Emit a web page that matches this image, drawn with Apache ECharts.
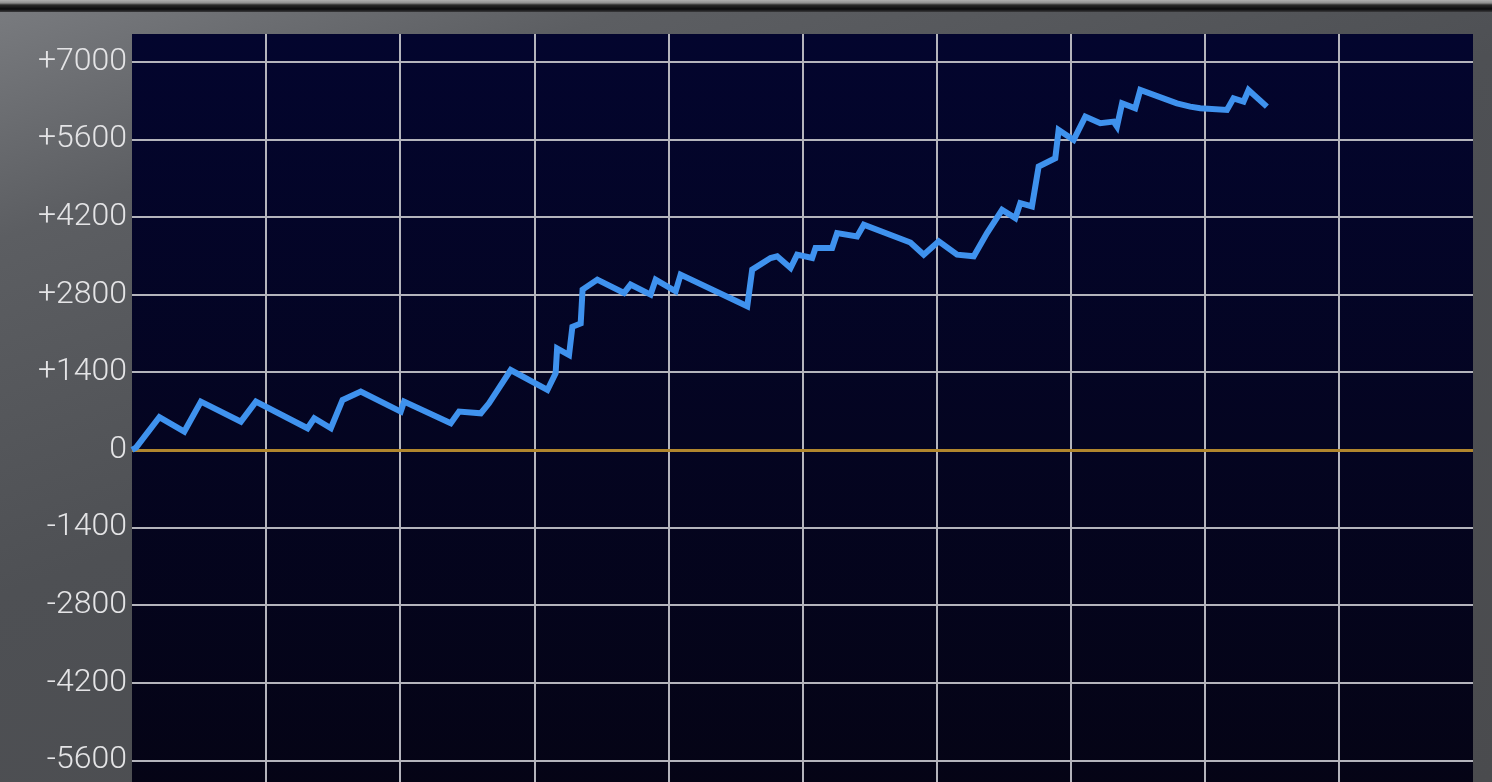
<!DOCTYPE html>
<html>
<head>
<meta charset="utf-8">
<script src="https://cdn.jsdelivr.net/npm/echarts@6/dist/echarts.min.js"></script>
<style>
html,body{margin:0;padding:0;width:1492px;height:782px;overflow:hidden;}
body{background:linear-gradient(160deg,#7a7c80 0%,#5c5e62 18%,#4e5054 45%,#4a4b4e 100%);position:relative;}
#topbar{position:absolute;left:0;top:0;width:1492px;height:12px;background:linear-gradient(180deg,#b0b0b0 0px,#8e8e8e 3px,#2a2a2a 5px,#0a0a0c 9px,#3a3a3c 12px);}
#c{position:absolute;left:0;top:0;width:1492px;height:838px;}
</style>
</head>
<body>
<div id="topbar"></div>
<div id="c"></div>
<script>
// game counts (x) and cumulative difference (y)
const games = [0, 30, 204, 390, 514, 812, 924, 1309, 1359, 1483, 1570, 1706, 2004, 2029, 2377, 2439, 2601, 2662, 2824, 3098, 3159, 3170, 3259, 3284, 3346, 3360, 3470, 3669, 3718, 3867, 3905, 4054, 4091, 4588, 4625, 4762, 4811, 4911, 4960, 5072, 5097, 5221, 5258, 5407, 5457, 5805, 5904, 6016, 6153, 6277, 6376, 6488, 6587, 6624, 6711, 6761, 6885, 6910, 7022, 7109, 7221, 7320, 7345, 7383, 7481, 7519, 7792, 7891, 7966, 8165, 8214, 8289, 8326, 8463];
const diff = [0, 40, 590, 330, 870, 510, 870, 390, 570, 390, 900, 1050, 690, 870, 480, 690, 660, 840, 1440, 1080, 1380, 1830, 1710, 2220, 2280, 2890, 3070, 2830, 2980, 2800, 3070, 2860, 3160, 2590, 3250, 3460, 3490, 3280, 3520, 3460, 3640, 3640, 3910, 3850, 4060, 3740, 3520, 3760, 3520, 3490, 3910, 4330, 4180, 4450, 4390, 5110, 5260, 5770, 5590, 6010, 5890, 5920, 5830, 6250, 6160, 6490, 6250, 6190, 6160, 6130, 6340, 6280, 6490, 6190];
const yMin = -7000, yMax = 7500, yStep = 1400;
const xMin = 0, xMax = 10000, xStep = 1000;

const chart = echarts.init(document.getElementById('c'), null, {renderer: 'canvas'});
chart.setOption({
  animation: false,
  backgroundColor: 'transparent',
  grid: {
    left: 132, width: 1341, top: 34, height: 804,
    containLabel: false, outerBoundsMode: 'none',
    show: true, borderWidth: 0,
    backgroundColor: new echarts.graphic.LinearGradient(0, 0, 0, 1, [
      {offset: 0, color: '#03052e'}, {offset: 1, color: '#050414'}
    ])
  },
  xAxis: {
    type: 'value', min: xMin, max: xMax, interval: xStep,
    axisLine: {show: false}, axisTick: {show: false}, axisLabel: {show: false},
    splitLine: {show: true, showMinLine: false, showMaxLine: false, lineStyle: {color: '#b4b4bc', width: 2}}
  },
  yAxis: {
    type: 'value', min: yMin, max: yMax, interval: yStep,
    axisLine: {show: false}, axisTick: {show: false},
    axisLabel: {
      show: true, margin: 5, color: '#e4e4e6', fontSize: 32, fontWeight: 300,
      fontFamily: 'Roboto, Liberation Sans, Arial, sans-serif',
      showMaxLabel: false,
      formatter: v => (v % yStep !== 0) ? '' : (v > 0 ? '+' + v : String(v))
    },
    splitLine: {show: true, showMaxLine: false, lineStyle: {color: '#b4b4bc', width: 2}}
  },
  series: [{
    type: 'line',
    data: games.map((g, i) => [g, diff[i]]),
    showSymbol: false, symbol: 'none',
    lineStyle: {color: '#3f92ee', width: 6, join: 'miter'},
    z: 3,
    markLine: {
      silent: true, symbol: ['none', 'none'], label: {show: false},
      lineStyle: {color: '#b0862e', width: 3, type: 'solid'},
      data: [{yAxis: 0}],
      z: 2
    }
  }]
});
</script>
</body>
</html>
